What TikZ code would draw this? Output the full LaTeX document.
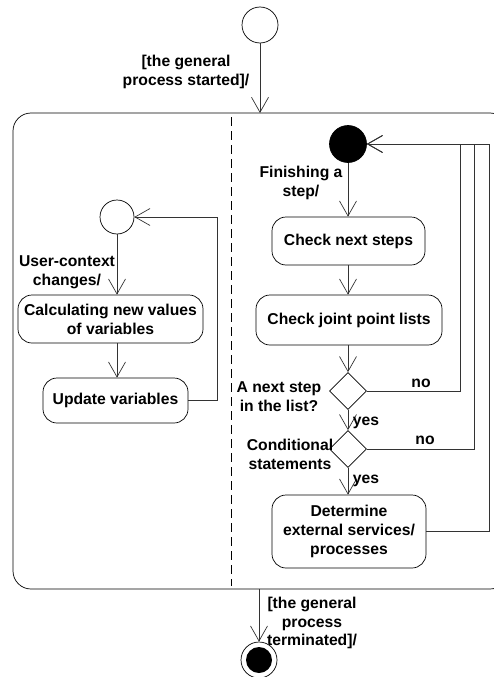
\documentclass[tikz,border=0pt]{standalone}
\usepackage{fontspec}
\setmainfont{Liberation Sans}
\usetikzlibrary{arrows.meta,shapes.geometric}
\begin{document}
\begin{tikzpicture}[x=1pt,y=-1pt,
  font=\fontsize{15.7}{18.8}\selectfont\bfseries,
  line width=0.7pt,
  arr/.style={draw=black!80,-{Straight Barb[length=15pt,width=17pt,line width=0.7pt]}},
  conn/.style={draw=black!80},
  actbox/.style={draw,rounded corners=14pt,align=center,inner sep=0pt},
  startc/.style={draw,circle,inner sep=0pt,minimum size=36pt},
  dec/.style={draw,diamond,inner sep=0pt,minimum width=37pt,minimum height=37pt,aspect=1},
  lbl/.style={align=center,inner sep=0pt}
]
\useasboundingbox (0,0) rectangle (493,677);
% container
\draw (13,113) [rounded corners=18pt] -- (13,589) -- (508,589) -- (508,113) -- cycle;
\draw[dash pattern=on 9pt off 5pt] (231,117) -- (231,586);
% top
\node[startc] (init) at (260,25) {};
\coordinate (ctop) at (260,113);
\draw[arr] (init) -- (ctop);
\node[lbl] (ltop) at (186,72) {[the general\\process started]/};
% left region
\node[startc,minimum size=34pt] (lc) at (117,217) {};
\node[actbox,minimum width=185pt,minimum height=48pt] (calc) at (110.5,319) {Calculating new values\\of variables};
\node[actbox,minimum width=145pt,minimum height=45pt] (upd) at (115.5,400.5) {Update variables};
\draw[arr] (lc) -- (lc |- calc.north);
\draw[arr] (calc.south -| lc) -- (upd.north -| lc);
\draw[arr] (upd.east) -- (217,400.5) -- (217,217) -- (lc.east);
\node[lbl] (luc) at (67,272) {User-context\\changes/};
% right region
\node[startc,fill=black,minimum size=37pt] (bc) at (348,144) {};
\node[actbox,minimum width=153pt,minimum height=48pt] (nxt) at (348.5,241) {Check next steps};
\node[actbox,minimum width=186pt,minimum height=50pt] (jnt) at (349,320) {Check joint point lists};
\node[dec] (d1) at (348,391) {};
\node[dec] (d2) at (348,449) {};
\node[actbox,minimum width=154pt,minimum height=73pt] (det) at (349,531.5) {Determine\\external services/\\processes};
\draw[arr] (bc) -- (bc |- nxt.north);
\draw[arr] (nxt.south -| bc) -- (jnt.north -| bc);
\draw[arr] (jnt.south -| bc) -- (d1.north);
\draw[arr] (d1.south) -- (d2.north);
\draw[arr] (d2.south) -- (det.north -| d2);
\draw[arr] (d1.east) -- (460,391) -- (460,144) -- (bc.east);
\draw[arr] (d2.east) -- (474,449) -- (474,144) -- (bc.east);
\draw[arr] (det.east) -- (489,531.5) -- (489,144) -- (bc.east);
\node[lbl] (lfin) at (301,183) {Finishing a\\step/};
\node[lbl] (lq1) at (279,397) {A next step\\in the list?};
\node[lbl] (lq2) at (290,454) {Conditional\\statements};
\node[lbl] (no1) at (421,383) {no};
\node[lbl] (no2) at (425,440) {no};
\node[lbl] (yes1) at (366,423) {yes};
\node[lbl] (yes2) at (366,481) {yes};
% bottom
\coordinate (cbot) at (259,589);
\node[startc] (fin) at (259,660) {};
\fill (fin.center) circle (13pt);
\draw[arr] (cbot) -- (fin.north);
\node[lbl] (lbot) at (312,623) {[the general\\process\\terminated]/};
\end{tikzpicture}
\end{document}
